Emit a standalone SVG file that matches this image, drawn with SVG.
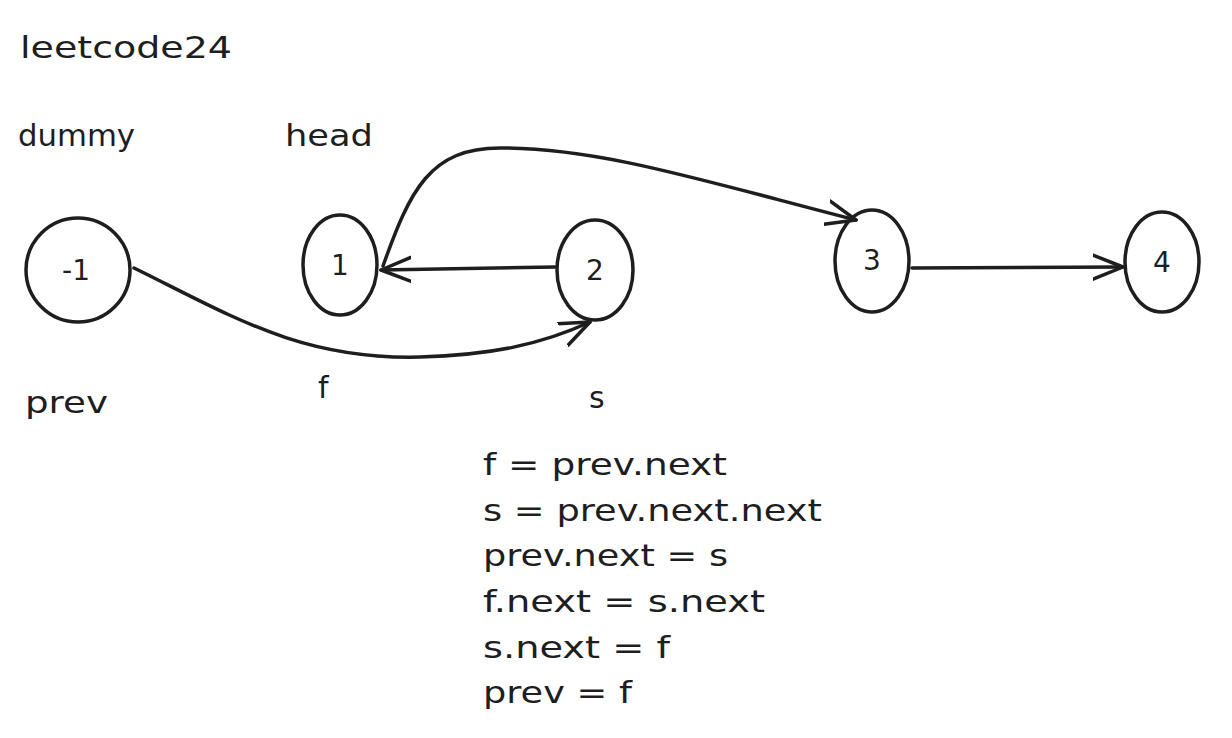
<svg xmlns="http://www.w3.org/2000/svg" width="1232" height="738" viewBox="0 0 1232 738">
<defs>
<style>
.t{font-family:"DejaVu Sans","Liberation Sans",sans-serif;fill:#1e1e1e;}
.lbl{font-size:30px;}
.code{font-size:31px;}
.nt{font-size:28px;text-anchor:middle;dominant-baseline:central;}
.node{fill:none;stroke:#1e1e1e;stroke-width:3.5;}
.edge{fill:none;stroke:#1e1e1e;stroke-width:3.5;stroke-linecap:round;}
</style>
<marker id="arr" markerUnits="userSpaceOnUse" markerWidth="40" markerHeight="40" viewBox="-30 -20 40 40" refX="0" refY="0" orient="auto">
<path d="M-30,-12 L0,0 L-30,12" fill="none" stroke="#1e1e1e" stroke-width="3.5" stroke-linecap="round" stroke-linejoin="round"/>
</marker>
</defs>
<rect width="1232" height="738" fill="#ffffff"/>
<text class="t lbl" x="20" y="58" textLength="212" lengthAdjust="spacingAndGlyphs">leetcode24</text>
<text class="t lbl" x="18" y="146" textLength="117" lengthAdjust="spacingAndGlyphs">dummy</text>
<text class="t lbl" x="285" y="146" textLength="88" lengthAdjust="spacingAndGlyphs">head</text>
<text class="t lbl" x="25" y="413" textLength="83" lengthAdjust="spacingAndGlyphs">prev</text>
<text class="t lbl" x="318" y="398">f</text>
<text class="t lbl" x="589" y="408">s</text>
<g id="connectors">
<path class="edge" d="M134,268 C230,315 300,360 420,357 C490,355 540,345 590,322" marker-end="url(#arr)"/>
<path class="edge" d="M555,267 L381,270" marker-end="url(#arr)"/>
<path class="edge" d="M383,266 C410,190 430,148 500,148 C600,148 700,180 856,220" marker-end="url(#arr)"/>
<path class="edge" d="M912,268 L1123,267" marker-end="url(#arr)"/>
</g>
<g id="node-m1"><ellipse class="node" cx="78" cy="270" rx="52" ry="52"/><text class="t nt" x="76" y="270">-1</text></g>
<g id="node-1"><ellipse class="node" cx="340" cy="265" rx="37" ry="50"/><text class="t nt" x="340" y="265">1</text></g>
<g id="node-2"><ellipse class="node" cx="595" cy="270" rx="38" ry="50"/><text class="t nt" x="595" y="270">2</text></g>
<g id="node-3"><ellipse class="node" cx="872" cy="261" rx="37" ry="51"/><text class="t nt" x="872" y="260">3</text></g>
<g id="node-4"><ellipse class="node" cx="1162" cy="262" rx="37" ry="50"/><text class="t nt" x="1162" y="262">4</text></g>
<g id="code">
<text class="t code" x="483" y="475" textLength="244" lengthAdjust="spacingAndGlyphs">f = prev.next</text>
<text class="t code" x="483" y="521" textLength="339" lengthAdjust="spacingAndGlyphs">s = prev.next.next</text>
<text class="t code" x="483" y="566" textLength="245" lengthAdjust="spacingAndGlyphs">prev.next = s</text>
<text class="t code" x="483" y="612" textLength="282" lengthAdjust="spacingAndGlyphs">f.next = s.next</text>
<text class="t code" x="483" y="658" textLength="187" lengthAdjust="spacingAndGlyphs">s.next = f</text>
<text class="t code" x="483" y="703" textLength="149" lengthAdjust="spacingAndGlyphs">prev = f</text>
</g>
</svg>
